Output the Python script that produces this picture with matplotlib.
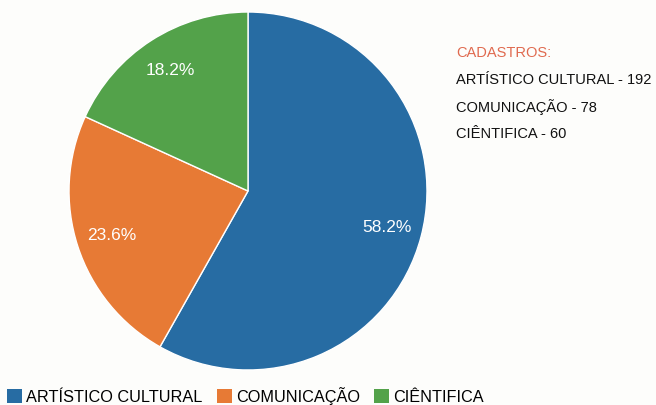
import matplotlib.pyplot as plt
from matplotlib.patches import Patch

# data
categories = ["ARTÍSTICO CULTURAL", "COMUNICAÇÃO", "CIÊNTIFICA"]
counts = [192, 78, 60]
colors = ["#276ca3", "#e77a35", "#53a24a"]

plt.rcParams["font.family"] = ["Liberation Sans", "DejaVu Sans"]

fig = plt.figure(figsize=(6.56, 4.05), dpi=100, facecolor="#fdfdfb")

# pie axes: centre ~ (248, 191) px, radius ~ 179 px
ax = fig.add_axes([0.1052, 0.0864, 0.5457, 0.8840])
ax.set_facecolor("none")
wedges, _, autotexts = ax.pie(
    counts,
    colors=colors,
    startangle=90,
    counterclock=False,
    autopct="%.1f%%",
    pctdistance=0.8,
    wedgeprops=dict(edgecolor="white", linewidth=1),
    textprops=dict(color="white", fontsize=12.5),
)
ax.set_xlim(-1, 1)
ax.set_ylim(-1, 1)
ax.set_aspect("equal")

# side note with the totals
fig.text(456 / 656, 1 - 53 / 405, "CADASTROS:", color="#e06a4f",
         fontsize=10.5, va="center", ha="left")
for i, (name, n) in enumerate(zip(categories, counts)):
    fig.text(456 / 656, 1 - (80 + 27 * i) / 405, f"{name} - {n}",
             color="#111111", fontsize=10.5, va="center", ha="left")

# legend along the bottom edge
handles = [Patch(facecolor=c, edgecolor="none") for c in colors]
fig.legend(
    handles,
    categories,
    loc="lower left",
    bbox_to_anchor=(0.003, -0.012),
    ncol=3,
    frameon=False,
    fontsize=11.7,
    handlelength=0.95,
    handleheight=0.95,
    handletextpad=0.25,
    columnspacing=0.85,
    borderaxespad=0.0,
    borderpad=0.3,
)

fig.savefig("out.png", dpi=100, facecolor=fig.get_facecolor())
